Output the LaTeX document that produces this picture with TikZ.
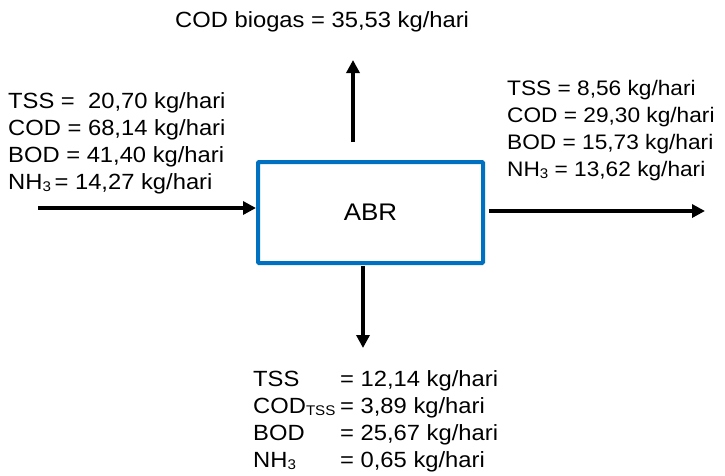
\documentclass[tikz,border=0pt]{standalone}
\usepackage{fontspec}
\setmainfont[FakeStretch=1.08]{Liberation Sans}
\usetikzlibrary{arrows.meta}
\definecolor{boxblue}{HTML}{0070C0}
\newcommand\subsc[1]{\raisebox{-2pt}{\fontsize{14}{14}\selectfont #1}}
\tikzset{
  lbl/.style={inner sep=0pt, anchor=base west, font=\fontsize{22}{27.3}\selectfont},
  lblsmall/.style={inner sep=0pt, anchor=base west, font=\fontsize{21}{27}\selectfont},
  flow/.style={line width=4.5pt, -{Triangle[length=13pt,width=13pt]}},
  reactor/.style={draw=boxblue, line width=4pt, rounded corners=1pt, minimum width=225pt, minimum height=101pt, inner sep=0pt, font=\fontsize{24}{28}\selectfont}
}
\begin{document}
\begin{tikzpicture}[x=1pt,y=-1pt]
\useasboundingbox (0,0) rectangle (725,475);
\node[reactor] (abr) at (370.5,212.5) {ABR};

\node[lbl] (top) at (175,27) {COD biogas = 35,53 kg/hari};

\node[lbl] (left) at (8,108) {\begin{tabular}[t]{@{}l@{}}
TSS = \ 20,70 kg/hari\\
COD = 68,14 kg/hari\\
BOD = 41,40 kg/hari\\
NH\subsc{3}\,= 14,27 kg/hari
\end{tabular}};

\node[lblsmall] (right) at (507,95) {\begin{tabular}[t]{@{}l@{}}
TSS = 8,56 kg/hari\\
COD = 29,30 kg/hari\\
BOD = 15,73 kg/hari\\
NH\subsc{3} = 13,62 kg/hari
\end{tabular}};

\node[lbl] (bottom) at (253,386) {\begin{tabular}[t]{@{}p{87pt}@{}l@{}}
TSS & = 12,14 kg/hari\\
COD\subsc{TSS} & = 3,89 kg/hari\\
BOD & = 25,67 kg/hari\\
NH\subsc{3} & = 0,65 kg/hari
\end{tabular}};

\coordinate (inStart) at (38,208);
\coordinate (outEnd) at (705,211);
\coordinate (gasStart) at (353,142);
\coordinate (gasEnd) at (353,60);
\coordinate (sludgeStart) at (363,266);
\coordinate (sludgeEnd) at (363,348);

\draw[flow] (inStart) -- (inStart -| abr.west);
\draw[flow] (outEnd -| abr.east) ++(4,0) -- (outEnd);
\draw[flow] (gasStart) -- (gasEnd);
\draw[flow] (sludgeStart) -- (sludgeEnd);
\end{tikzpicture}
\end{document}
